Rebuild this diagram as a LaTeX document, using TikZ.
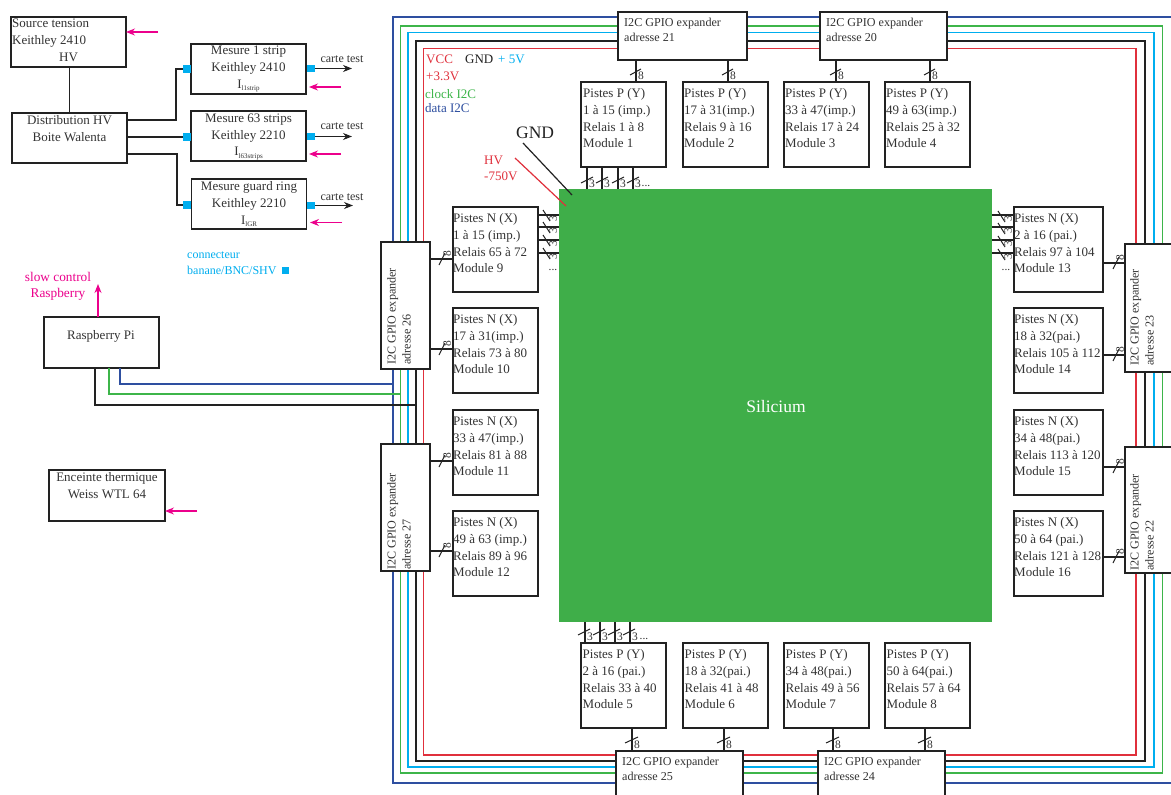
\documentclass[tikz,border=0pt]{standalone}
\usepackage{fontspec}
\setmainfont{Liberation Serif}
\usetikzlibrary{arrows.meta,calc}
\definecolor{cred}{HTML}{E0303C}
\definecolor{cblack}{HTML}{222222}
\definecolor{ccyan}{HTML}{00AEEF}
\definecolor{cgreen}{HTML}{3DB54A}
\definecolor{cblue}{HTML}{2E4FA0}
\definecolor{cpink}{HTML}{EC008C}
\definecolor{csi}{HTML}{3FAE49}
\definecolor{ctext}{HTML}{333333}
\tikzset{
  box/.style={draw=cblack,fill=white,line width=1.3pt,inner sep=0pt,outer sep=0pt,anchor=north west},
  txtl/.style={font=\fontsize{13}{16.7}\selectfont,text=ctext,align=left,inner sep=0pt,anchor=north west},
  txtc/.style={font=\fontsize{13}{16.7}\selectfont,text=ctext,align=center,inner sep=0pt,anchor=north},
  exptxt/.style={font=\fontsize{12.1}{15}\selectfont,text=ctext,align=left,inner sep=0pt,anchor=north west},
  wire/.style={draw=cblack,line width=1.3pt},
  tick/.style={draw=cblack,line width=1pt},
  num/.style={font=\fontsize{11.5}{11.5}\selectfont,text=ctext,inner sep=0pt},
  bus/.style={line width=1.3pt},
  sig/.style={draw=cpink,line width=1.1pt,-{Stealth[length=9pt,width=7pt]}},
  outarrow/.style={draw=cblack,line width=1.1pt,-{Stealth[length=9pt,width=7pt]}},
  conn/.style={fill=ccyan,inner sep=0pt,outer sep=0pt,minimum width=8pt,minimum height=7.5pt},
  lab/.style={font=\fontsize{13}{16}\selectfont,inner sep=0pt,anchor=west},
  ctest/.style={font=\fontsize{12}{12}\selectfont,text=ctext,inner sep=0pt},
  legend/.style={font=\fontsize{12}{12}\selectfont,text=ccyan,inner sep=0pt,anchor=west},
  slow/.style={font=\fontsize{13.3}{13.3}\selectfont,text=cpink,inner sep=0pt},
}
\newcommand{\Bx}[5]{\node[box,minimum width=#4pt,minimum height=#5pt] (#1) at (#2,#3) {};}
\newcommand{\Mod}[5]{\Bx{#1}{#2}{#3}{85}{85}\node[txtl] (#1t) at ([shift={(#4,6.5)}]#1.north west) {#5};}
\newcommand{\ModW}[4]{\Bx{#1}{#2}{#3}{89}{85}\node[txtl] (#1t) at ([shift={(0,6.5)}]#1.north west) {#4};}
\newcommand{\Subs}[1]{\raisebox{-2.5pt}{\fontsize{7}{7}\selectfont #1}}
\begin{document}
\begin{tikzpicture}[x=1pt,y=-1pt]
\useasboundingbox (0,0) rectangle (1171,795);
\clip (0,0) rectangle (1171,795);
\fill[white] (0,0) rectangle (1171,795);
% buses
\draw[bus,cblue] (1190,17) -- (393,17) -- (393,783) -- (1190,783);
\draw[bus,cgreen] (400.5,26) rectangle (1162.5,773);
\draw[bus,ccyan] (408,32.5) rectangle (1154,767);
\draw[bus,cblack] (416,41) rectangle (1145,761);
\draw[bus,cred] (423.5,48.5) rectangle (1136,755);
% silicon
\node[fill=csi,inner sep=0pt,outer sep=0pt,minimum width=433pt,minimum height=433pt,anchor=north west] (si) at (559,189) {};
\node[font=\fontsize{17.5}{17.5}\selectfont,text=white,inner sep=0pt] (sitxt) at (776,407) {Silicium};
% modules
\Mod{m1}{581}{82}{2}{Pistes P (Y)\\1 à 15 (imp.)\\Relais 1 à 8\\Module 1}
\Mod{m2}{683}{82}{1}{Pistes P (Y)\\17 à 31(imp.)\\Relais 9 à 16\\Module 2}
\Mod{m3}{784}{82}{1}{Pistes P (Y)\\33 à 47(imp.)\\Relais 17 à 24\\Module 3}
\Mod{m4}{885}{82}{1}{Pistes P (Y)\\49 à 63(imp.)\\Relais 25 à 32\\Module 4}
\Mod{m5}{581}{643}{1.5}{Pistes P (Y)\\2 à 16 (pai.)\\Relais 33 à 40\\Module 5}
\Mod{m6}{683}{643}{1.5}{Pistes P (Y)\\18 à 32(pai.)\\Relais 41 à 48\\Module 6}
\Mod{m7}{784}{643}{1.5}{Pistes P (Y)\\34 à 48(pai.)\\Relais 49 à 56\\Module 7}
\Mod{m8}{885}{643}{1.5}{Pistes P (Y)\\50 à 64(pai.)\\Relais 57 à 64\\Module 8}
\Mod{m9}{453}{207}{0}{Pistes N (X)\\1 à 15 (imp.)\\Relais 65 à 72\\Module 9}
\Mod{m10}{453}{308}{0}{Pistes N (X)\\17 à 31(imp.)\\Relais 73 à 80\\Module 10}
\Mod{m11}{453}{410}{0}{Pistes N (X)\\33 à 47(imp.)\\Relais 81 à 88\\Module 11}
\Mod{m12}{453}{511}{0}{Pistes N (X)\\49 à 63 (imp.)\\Relais 89 à 96\\Module 12}
\ModW{m13}{1014}{207}{Pistes N (X)\\2 à 16 (pai.)\\Relais 97 à 104\\Module 13}
\ModW{m14}{1014}{308}{Pistes N (X)\\18 à 32(pai.)\\Relais 105 à 112\\Module 14}
\ModW{m15}{1014}{410}{Pistes N (X)\\34 à 48(pai.)\\Relais 113 à 120\\Module 15}
\ModW{m16}{1014}{511}{Pistes N (X)\\50 à 64 (pai.)\\Relais 121 à 128\\Module 16}
% expanders
\Bx{e21}{618}{12}{129}{48}
\Bx{e20}{820}{12}{127}{48}
\Bx{e25}{616}{751}{127}{60}
\Bx{e24}{818}{751}{127}{60}
\Bx{e26}{381}{242}{49}{127}
\Bx{e27}{381}{444}{49}{127}
\Bx{e23}{1125}{244}{60}{128}
\Bx{e22}{1125}{447}{60}{126}
\node[exptxt] (e21t) at (624,18) {I2C GPIO expander\\adresse 21};
\node[exptxt] (e20t) at (826,18) {I2C GPIO expander\\adresse 20};
\node[exptxt] (e25t) at (622,756.5) {I2C GPIO expander\\adresse 25};
\node[exptxt] (e24t) at (824,756.5) {I2C GPIO expander\\adresse 24};
\node[exptxt,rotate=90] (e26t) at (387,365) {I2C GPIO expander\\adresse 26};
\node[exptxt,rotate=90] (e27t) at (387,570) {I2C GPIO expander\\adresse 27};
\node[exptxt,rotate=90] (e23t) at (1130,366) {I2C GPIO expander\\adresse 23};
\node[exptxt,rotate=90] (e22t) at (1130,571) {I2C GPIO expander\\adresse 22};
% 8-wire links, top
\foreach \m/\e/\x in {m1/e21/636,m2/e21/728,m3/e20/836,m4/e20/930}{
  \draw[wire] (\e.south -| \x,0) -- (\m.north -| \x,0);
  \draw[tick] (\x-6,75) -- ++(11,-6);
  \node[num] (n\m) at (\x+5,76) {8};
}
% 8-wire links, bottom
\foreach \m/\e/\x in {m5/e25/632,m6/e25/724,m7/e24/833,m8/e24/925}{
  \draw[wire] (\m.south -| \x,0) -- (\e.north -| \x,0);
  \draw[tick] (\x-7,743) -- ++(13,-6);
  \node[num] (n\m) at (\x+5,745) {8};
}
% 8-wire links, left
\foreach \m/\e/\y in {m9/e26/259,m10/e26/349,m11/e27/461,m12/e27/551}{
  \draw[wire] (\e.east |- 0,\y) -- (\m.west |- 0,\y);
  \draw[tick] (439,\y+6) -- ++(6,-12);
  \node[num,rotate=90] (n\m) at (447,\y-5) {8};
}
% 8-wire links, right
\foreach \m/\e/\y in {m13/e23/263,m14/e23/355,m15/e22/467,m16/e22/557}{
  \draw[wire] (\m.east |- 0,\y) -- (\e.west |- 0,\y);
  \draw[tick] (1113,\y+6) -- ++(6,-12);
  \node[num,rotate=90] (n\m) at (1120,\y-5) {8};
}
% 3-wire links
\foreach \x in {587,602,618,633}{
  \draw[wire] (m1.south -| \x,0) -- (si.north -| \x,0);
  \draw[tick] (\x-6,183) -- ++(12,-6);
  \node[num] (t\x) at (\x+5,184) {3};
}
\node[num] (tdots) at (646,186) {...};
\foreach \x in {585,600,615,630}{
  \draw[wire] (si.south -| \x,0) -- (m5.north -| \x,0);
  \draw[tick] (\x-7,635) -- ++(12,-6);
  \node[num] (b\x) at (\x+5,637) {3};
}
\node[num] (bdots) at (644,639) {...};
\foreach \y in {215,227,240,253}{
  \draw[wire] (m9.east |- 0,\y) -- (si.west |- 0,\y);
  \draw[tick] (543,\y-5) -- ++(7,11);
  \node[num,rotate=90] (l\y) at (553,\y+4) {3};
}
\node[num] (ldots) at (553,270) {...};
\foreach \y in {215,227,240,253}{
  \draw[wire] (si.east |- 0,\y) -- (m13.west |- 0,\y);
  \draw[tick] (998,\y-4) -- ++(7,11);
  \node[num,rotate=90] (r\y) at (1008,\y+4) {3};
}
\node[num] (rdots) at (1006,270) {...};
% bus legend
\node[lab,text=cred] (lvcc) at (426,59) {VCC};
\node[lab,text=cblack] (lgnd) at (465,59) {GND};
\node[lab,text=ccyan] (l5v) at (498,59) {+ 5V};
\node[lab,text=cred] (l33) at (426,76) {+3.3V};
\node[lab,text=cgreen] (lclk) at (425,94) {clock I2C};
\node[lab,text=cblue] (ldat) at (425,108) {data I2C};
% GND / HV
\node[lab,text=cblack,font=\fontsize{17.5}{17.5}\selectfont] (lg) at (516,133) {GND};
\node[lab,text=cred] (lhv) at (484,160) {HV};
\node[lab,text=cred] (lhv2) at (484,176) {-750V};
\coordinate (cg) at (523,143);
\coordinate (cgs) at (572,195);
\coordinate (ch) at (515,158);
\coordinate (chs) at (566,206);
\draw[cblack,line width=1.2pt] (cg) -- (cgs);
\draw[cred,line width=1.2pt] (ch) -- (chs);
% instruments
\Bx{src}{11}{17}{115}{50}
\node[txtl] (srct) at (12,19) {Source tension\\Keithley 2410\\\hspace*{47pt}HV};
\Bx{dist}{12}{113}{115}{50}
\node[txtc] (distt) at (69.5,115.5) {Distribution HV\\Boite Walenta};
\Bx{me1}{191}{44}{115}{50}
\node[txtc] (me1t) at (248.5,46) {Mesure 1 strip\\Keithley 2410\\I\Subs{l1strip}};
\Bx{me2}{191}{111}{115}{50}
\node[txtc] (me2t) at (248.5,113.5) {Mesure 63 strips\\Keithley 2210\\I\Subs{l63strips}};
\Bx{me3}{191.5}{179}{115}{50}
\node[txtc] (me3t) at (249,181.5) {Mesure guard ring\\Keithley 2210\\I\Subs{lGR}};
\Bx{rpi}{44}{317}{115}{51}
\node[txtc] (rpit) at (101,330) {Raspberry Pi};
\Bx{enc}{49}{470}{116}{51}
\node[txtc] (enct) at (107,472.5) {Enceinte thermique\\Weiss WTL 64};
% connectors around instruments
\node[conn] (c1) at (187,69) {};
\node[conn] (c2) at (187,137) {};
\node[conn] (c3) at (187,205) {};
\node[conn] (o1) at (310.5,68.5) {};
\node[conn] (o2) at (310.5,136.5) {};
\node[conn] (o3) at (311,205.5) {};
\draw[wire] (src.south -| dist.north) -- (dist.north);
\draw[wire] (dist.east |- 0,120) -| (176,69) -- (c1.west);
\draw[wire] (dist.east |- c2.west) -- (c2.west);
\draw[wire] (dist.east |- 0,154) -| (177,205) -- (c3.west);
\coordinate (a1) at (352,68.5);
\coordinate (a2) at (352,136.5);
\coordinate (a3) at (353,205.5);
\draw[outarrow] (o1.east) -- (a1);
\draw[outarrow] (o2.east) -- (a2);
\draw[outarrow] (o3.east) -- (a3);
\node[ctest] (ct1) at (342,59) {carte test};
\node[ctest] (ct2) at (342,126) {carte test};
\node[ctest] (ct3) at (342,197) {carte test};
% pink arrows
\coordinate (s0) at (158,32);
\coordinate (s1) at (341,87);
\coordinate (s2) at (341,154);
\coordinate (s3) at (342,222.5);
\coordinate (s4) at (197,511);
\coordinate (s5) at (98,284);
\draw[sig] (s0) -- (src.east |- s0);
\draw[sig] (s1) -- (309,87);
\draw[sig] (s2) -- (309,154);
\draw[sig] (s3) -- (310,222.5);
\draw[sig] (s4) -- (enc.east |- s4);
\draw[sig] (rpi.north -| s5) -- (s5);
\node[slow] (sc1) at (58,277) {slow control};
\node[slow] (sc2) at (58,294) {Raspberry};
% connector legend
\node[legend] (lc1) at (187,255) {connecteur};
\node[legend] (lc2) at (187,270) {banane/BNC/SHV};
\node[conn,minimum width=7pt,minimum height=7pt] (lcs) at (285.5,270.5) {};
% Raspberry links to the bus
\draw[cblack,line width=1.2pt] (rpi.south -| 95,0) |- (416,405);
\draw[cgreen,line width=1.2pt] (rpi.south -| 109,0) |- (400.5,394);
\draw[cblue,line width=1.2pt] (rpi.south -| 120,0) |- (393,384);
\end{tikzpicture}
\end{document}
